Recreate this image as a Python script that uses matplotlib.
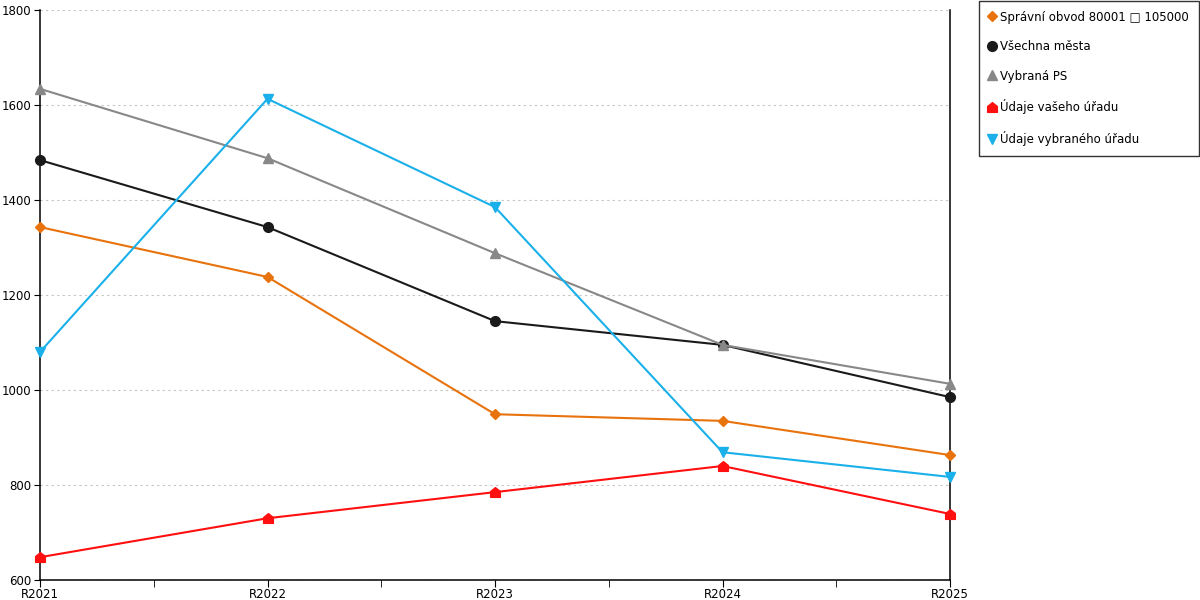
import numpy as np
import matplotlib
matplotlib.use('Agg')
import matplotlib.pyplot as plt
from matplotlib.path import Path

plt.rcParams['font.family'] = ['DejaVu Sans']
plt.rcParams['font.size'] = 8.5

years = ['R2021', 'R2022', 'R2023', 'R2024', 'R2025']

spravni = [1343, 1238, 949, 935, 863]
vsechna = [1484, 1343, 1145, 1095, 985]
vybrana_ps = [1634, 1488, 1288, 1095, 1013]
vaseho = [648, 730, 785, 840, 739]
vybraneho = [1080, 1613, 1385, 869, 817]

labels = ['Správní obvod 80001 \u25a1 105000', 'Všechna města', 'Vybraná PS',
          'Údaje vašeho úřadu', 'Údaje vybraného úřadu']

# house shaped marker for "vaseho uradu"
house = Path([(-1, -1), (1, -1), (1, 0.2), (0, 1), (-1, 0.2), (-1, -1)],
             [Path.MOVETO, Path.LINETO, Path.LINETO, Path.LINETO, Path.LINETO, Path.CLOSEPOLY])

fig = plt.figure(figsize=(12, 6), dpi=100)
ax = fig.add_axes([40/1200, 20/600, 910/1200, 570/600])

x = np.arange(len(years))
ax.plot(x, spravni, color='#e8720c', marker='D', markersize=5, lw=1.5, label=labels[0], clip_on=False, zorder=3)
ax.plot(x, vsechna, color='#1a1a1a', marker='o', markersize=7, lw=1.5, label=labels[1], clip_on=False, zorder=3)
ax.plot(x, vybrana_ps, color='#888888', marker='^', markersize=7, lw=1.5, label=labels[2], clip_on=False, zorder=3)
ax.plot(x, vaseho, color='#ff0f0f', marker=house, markersize=7, lw=1.5, label=labels[3], clip_on=False, zorder=3)
ax.plot(x, vybraneho, color='#1ab0ea', marker='v', markersize=7, lw=1.5, label=labels[4], clip_on=False, zorder=3)

ax.set_xlim(0, 4)
ax.set_ylim(600, 1800)
ax.set_yticks(np.arange(600, 1801, 200))
ax.set_xticks(x)
ax.set_xticklabels(years)
ax.set_xticks(x[:-1] + 0.5, minor=True)
ax.tick_params(axis='x', which='both', length=5, direction='out', pad=0.5, labelsize=8.5)
ax.tick_params(axis='y', length=4, direction='out', pad=2, labelsize=8.5)

ax.grid(axis='y', color='#c4c4c4', linestyle=(0, (2, 3)), lw=0.8)
ax.set_axisbelow(True)
ax.spines['top'].set_visible(False)
for s in ['left', 'bottom', 'right']:
    ax.spines[s].set_color('black')
    ax.spines[s].set_linewidth(1.1)

leg = fig.legend(loc='upper right', bbox_to_anchor=(1199/1200, 1 - 0.5/600), frameon=True,
                 fancybox=False, edgecolor='black', handlelength=0.5, handletextpad=0.45,
                 labelspacing=1.4, borderpad=0.85, borderaxespad=0, fontsize=8.5)
for h in leg.legend_handles:
    h.set_linestyle('')
leg.get_frame().set_linewidth(1)

fig.savefig('out.png', dpi=100)
